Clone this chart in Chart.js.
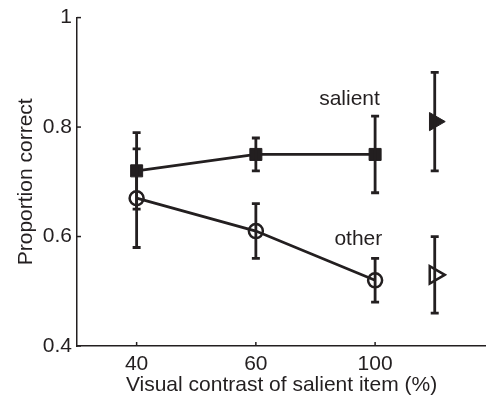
<!DOCTYPE html>
<html>
<head>
<meta charset="utf-8">
<script src="https://cdn.jsdelivr.net/npm/chart.js@4"></script>
<style>
  html, body { margin: 0; padding: 0; background: #fff; }
  #grafico { display: block; }
</style>
</head>
<body>
<canvas id="grafico" width="486" height="402"></canvas>
<script>
// datos
const categorias = ['40', '60', '100'];
const posX = [0, 1, 2];
const posSolo = 2.5;

const salient = [0.72, 0.75, 0.75];
const salientErr = [0.07, 0.03, 0.07];
const other = [0.67, 0.61, 0.52];
const otherErr = [0.09, 0.05, 0.04];

const salientSolo = 0.81;
const salientSoloErr = 0.09;
const otherSolo = 0.53;
const otherSoloErr = 0.07;

const yTicks = [0.4, 0.6, 0.8, 1];
const yTickLabels = ['0.4', '0.6', '0.8', '1'];

const tinta = '#231f20';
const fuente = 'Liberation Sans, Arial, sans-serif';

function puntos(valores, errores) {
        return posX.map((x, i) => ({ x: x, y: valores[i], err: errores[i] }));
}

// barras de error, ticks hacia adentro y etiquetas de las series
const extras = {
        id: 'extras',
        afterDatasetsDraw(chart) {
                const { ctx, scales: { x, y } } = chart;
                ctx.save();
                ctx.strokeStyle = tinta;
                ctx.lineWidth = 2.8;
                chart.data.datasets.forEach(ds => {
                        ds.data.forEach(p => {
                                const px = x.getPixelForValue(p.x);
                                const arriba = y.getPixelForValue(p.y + p.err);
                                const abajo = y.getPixelForValue(p.y - p.err);
                                ctx.beginPath();
                                ctx.moveTo(px, arriba);
                                ctx.lineTo(px, abajo);
                                ctx.moveTo(px - 4, arriba);
                                ctx.lineTo(px + 4, arriba);
                                ctx.moveTo(px - 4, abajo);
                                ctx.lineTo(px + 4, abajo);
                                ctx.stroke();
                        });
                });

                // ticks cortos hacia el interior
                ctx.lineWidth = 1.5;
                y.ticks.forEach((t, i) => {
                        const py = y.getPixelForTick(i);
                        ctx.beginPath();
                        ctx.moveTo(x.left, py);
                        ctx.lineTo(x.left + 4, py);
                        ctx.stroke();
                });
                x.ticks.forEach((t, i) => {
                        const px = x.getPixelForTick(i);
                        ctx.beginPath();
                        ctx.moveTo(px, y.bottom);
                        ctx.lineTo(px, y.bottom - 4);
                        ctx.stroke();
                });

                // nombres de las series
                ctx.fillStyle = tinta;
                ctx.font = '21px ' + fuente;
                ctx.textAlign = 'right';
                ctx.textBaseline = 'alphabetic';
                ctx.fillText('salient', x.getPixelForValue(2.04), y.getPixelForValue(0.84));
                ctx.fillText('other', x.getPixelForValue(2.06), y.getPixelForValue(0.584));
                ctx.restore();
        }
};

const ctx = document.querySelector('#grafico');

const myChart = new Chart(ctx, {
        type: 'scatter',
        data: {
                datasets: [
                        {
                                label: 'salient',
                                data: puntos(salient, salientErr),
                                showLine: true,
                                borderColor: tinta,
                                borderWidth: 2.8,
                                pointStyle: 'rect',
                                pointRadius: 8.5,
                                pointBorderWidth: 1,
                                pointBackgroundColor: tinta,
                                pointBorderColor: tinta
                        },
                        {
                                label: 'other',
                                data: puntos(other, otherErr),
                                showLine: true,
                                borderColor: tinta,
                                borderWidth: 2.8,
                                pointStyle: 'circle',
                                pointRadius: 7,
                                pointBorderWidth: 2.5,
                                pointBackgroundColor: 'rgba(0,0,0,0)',
                                pointBorderColor: tinta
                        },
                        {
                                label: 'salient solo',
                                data: [{ x: posSolo, y: salientSolo, err: salientSoloErr }],
                                showLine: false,
                                pointStyle: 'triangle',
                                rotation: 90,
                                pointRadius: 10.5,
                                pointBorderWidth: 1,
                                pointBackgroundColor: tinta,
                                pointBorderColor: tinta
                        },
                        {
                                label: 'other solo',
                                data: [{ x: posSolo, y: otherSolo, err: otherSoloErr }],
                                showLine: false,
                                pointStyle: 'triangle',
                                rotation: 90,
                                pointRadius: 10,
                                pointBorderWidth: 2.5,
                                pointBackgroundColor: 'rgba(0,0,0,0)',
                                pointBorderColor: tinta
                        }
                ]
        },
        options: {
                responsive: false,
                animation: false,
                layout: { autoPadding: false, padding: { top: 17, right: 0, left: 0, bottom: 0 } },
                plugins: {
                        legend: { display: false },
                        tooltip: { enabled: false }
                },
                scales: {
                        x: {
                                type: 'linear',
                                min: -0.5,
                                max: 2.93,
                                afterBuildTicks: (scale) => { scale.ticks = posX.map(v => ({ value: v })); },
                                afterFit: (scale) => { scale.height = 56; },
                                grid: { display: false, drawTicks: false },
                                border: { display: true, color: tinta, width: 1.5 },
                                ticks: {
                                        color: tinta,
                                        font: { family: fuente, size: 21 },
                                        padding: 6,
                                        maxRotation: 0,
                                        callback: (v, i) => categorias[i]
                                },
                                title: {
                                        display: true,
                                        text: 'Visual contrast of salient item (%)',
                                        color: tinta,
                                        font: { family: fuente, size: 21 },
                                        padding: { top: 0, bottom: 4 }
                                }
                        },
                        y: {
                                min: 0.4,
                                max: 1,
                                afterBuildTicks: (scale) => { scale.ticks = yTicks.map(v => ({ value: v })); },
                                afterFit: (scale) => { scale.width = 77; },
                                grid: { display: false, drawTicks: false },
                                border: { display: true, color: tinta, width: 1.5 },
                                ticks: {
                                        color: tinta,
                                        font: { family: fuente, size: 21 },
                                        padding: 5,
                                        callback: (v, i) => yTickLabels[i]
                                },
                                title: {
                                        display: true,
                                        text: 'Proportion correct',
                                        color: tinta,
                                        font: { family: fuente, size: 21 },
                                        padding: { top: 14, bottom: 0 }
                                }
                        }
                }
        },
        plugins: [extras]
});
</script>
</body>
</html>
